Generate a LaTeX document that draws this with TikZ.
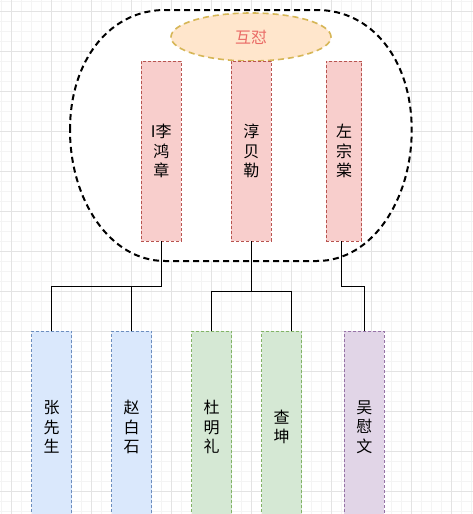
\documentclass[tikz,border=0pt]{standalone}
\usepackage{fontspec}
\newfontfamily\cjk{Noto Sans CJK SC}
\usetikzlibrary{shapes.geometric}

\definecolor{pinkfill}{HTML}{F8CECC}
\definecolor{pinkline}{HTML}{B85450}
\definecolor{bluefill}{HTML}{DAE8FC}
\definecolor{blueline}{HTML}{6C8EBF}
\definecolor{greenfill}{HTML}{D5E8D4}
\definecolor{greenline}{HTML}{82B366}
\definecolor{purplefill}{HTML}{E1D5E7}
\definecolor{purpleline}{HTML}{9673A6}
\definecolor{orangefill}{HTML}{FFE6CC}
\definecolor{goldline}{HTML}{D6B656}
\definecolor{redtext}{HTML}{EA6B66}
\definecolor{gridminor}{HTML}{F4F4F4}
\definecolor{gridmajor}{HTML}{E3E3E3}

\begin{document}
\begin{tikzpicture}[
		x=1pt, y=-1pt,
		font=\cjk\fontsize{16}{19.5}\selectfont,
		link/.style={line width=1pt, black},
		person/.style={rectangle, draw, line width=0.7pt, dash pattern=on 3pt off 2pt,
			inner sep=0pt, minimum width=40pt, align=center, text=black},
		high/.style={person, fill=pinkfill, draw=pinkline, minimum height=180pt},
		low/.style={person, minimum height=192pt},
		camp/.style={draw, fill=white, line width=2pt, dash pattern=on 6pt off 4pt},
		fight/.style={ellipse, draw=goldline, fill=orangefill, line width=1.6pt,
			dash pattern=on 6pt off 4pt, inner sep=0pt, text=redtext}
		]
		
		% ---- Canvas and grid ----
		\useasboundingbox (0,0) rectangle (473,514);
		\clip (0,0) rectangle (473,514);
		\fill[white] (0,0) rectangle (473,514);
		\foreach \g in {1.7,11.7,...,511.7} {
			\draw[gridminor, line width=0.5pt] (\g,0) -- (\g,514);
			\draw[gridminor, line width=0.5pt] (0,\g) -- (473,\g);
		}
		\foreach \g in {11.7,51.7,...,491.7} {
			\draw[gridmajor, line width=0.6pt] (\g,0) -- (\g,514);
			\draw[gridmajor, line width=0.6pt] (0,\g) -- (473,\g);
		}
		
		% ---- Dashed group round the top row ----
		\draw[camp] (70,130) .. controls (70,60) and (110,10) .. (165,10)
			-- (317,10) .. controls (372,10) and (411.7,60) .. (411.7,130)
			.. controls (411.7,200) and (372,261) .. (317,261)
			-- (165,261) .. controls (110,261) and (70,200) .. (70,130) -- cycle;
		
		% ---- Top row ----
		\node[fight, minimum width=160pt, minimum height=48pt] (huidui) at (251,37) {互怼};
		\node[high] (li)   at (161.3,151) {I李\\鸿\\章};
		\node[high] (chun) at (251.3,151) {淳\\贝\\勒};
		\node[high, minimum width=35.4pt] (zuo) at (344,151) {左\\宗\\棠};
		
		% ---- Bottom row ----
		\node[low, fill=bluefill, draw=blueline]     (zhang) at (51.7,427)  {张\\先\\生};
		\node[low, fill=bluefill, draw=blueline]     (zhao)  at (131.7,427) {赵\\白\\石};
		\node[low, fill=greenfill, draw=greenline]   (du)    at (211.7,427) {杜\\明\\礼};
		\node[low, fill=greenfill, draw=greenline]   (cha)   at (281.7,427) {查\\坤};
		\node[low, fill=purplefill, draw=purpleline] (wu)    at (364.3,427) {吴\\慰\\文};
		
		% ---- Junctions ----
		\coordinate (liJ)   at (161.3,286);
		\coordinate (chunJ) at (251.3,291.7);
		\coordinate (zuoJ)  at (341.7,286);
		
		% ---- Links ----
		\draw[link] (li.south) -- (liJ) -| (zhang.north);
		\draw[link] (liJ) -| (zhao.north);
		
		\draw[link] (chun.south) -- (chunJ) -| (du.north);
		\draw[link] (chunJ) -| ([xshift=10pt]cha.north);
		
		\draw[link] ([xshift=-2.3pt]zuo.south) -- (zuoJ) -| (wu.north);
	\end{tikzpicture}
\end{document}
